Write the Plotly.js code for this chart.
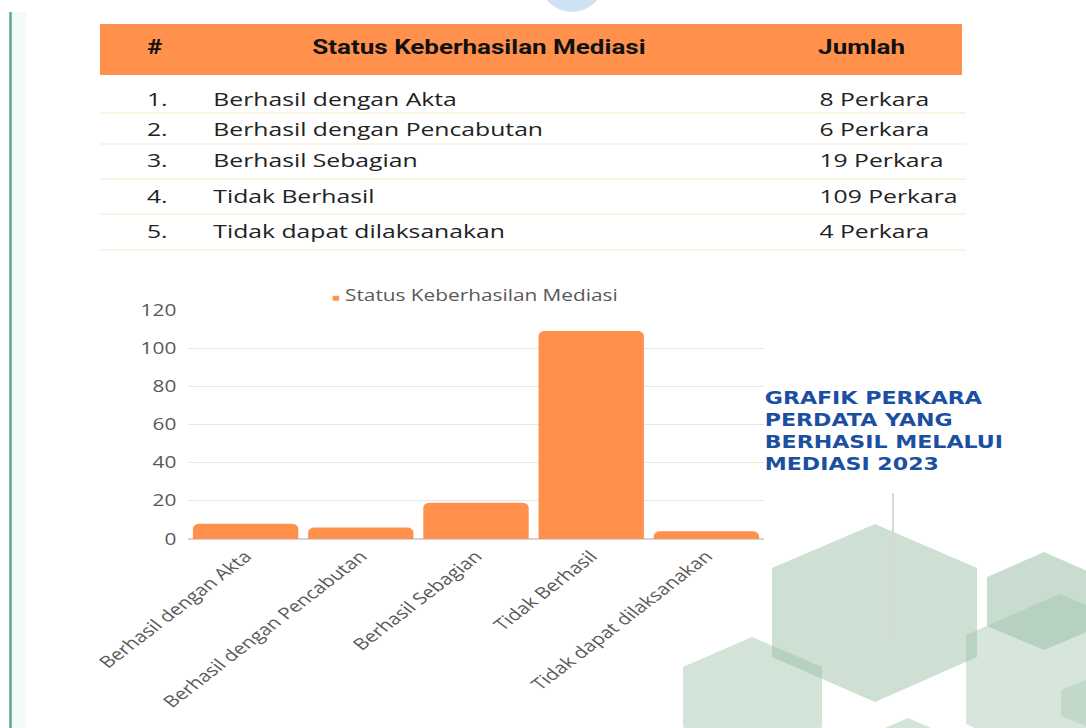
<!DOCTYPE html>
<html>
<head>
<meta charset="utf-8">
<script src="https://cdn.plot.ly/plotly-3.0.1.min.js"></script>
<style>
  html, body { margin: 0; padding: 0; background: #ffffff; overflow: hidden; }
  #chart { width: 835px; height: 728px; transform: scaleX(1.3006); transform-origin: 0 0; }
</style>
</head>
<body>
<div id="chart"></div>
<script>
// ---------- data ----------
const categories = ["Berhasil dengan Akta", "Berhasil dengan Pencabutan", "Berhasil Sebagian", "Tidak Berhasil", "Tidak dapat dilaksanakan"];
const counts = [8, 6, 19, 109, 4];
const rowNumbers = ["1.", "2.", "3.", "4.", "5."];
const amountUnit = "Perkara";
const headerLabels = ["#", "Status Keberhasilan Mediasi", "Jumlah"];
const seriesName = "Status Keberhasilan Mediasi";
const yTicks = [0, 20, 40, 60, 80, 100, 120];
const titleLines = ["GRAFIK PERKARA", "PERDATA YANG", "BERHASIL MELALUI", "MEDIASI 2023"];

// ---------- helpers (final-image pixel -> paper fraction) ----------
const FW = 1086, FH = 728;
const X = px => px / FW;
const Y = py => 1 - py / FH;
const ORANGE = "#FF914D";
const GRAY = "#595959";

function hexPath(pts) {
  return "M" + pts.map(p => X(p[0]).toFixed(5) + "," + Y(p[1]).toFixed(5)).join(" L") + " Z";
}

const shapes = [];
const annotations = [];

// left green rule
shapes.push({type: "rect", xref: "paper", yref: "paper", x0: X(12), x1: X(26), y0: Y(728), y1: Y(12),
  fillcolor: "rgba(215,244,236,0.35)", line: {width: 0}, layer: "below"});
shapes.push({type: "line", xref: "paper", yref: "paper", x0: X(10.5), x1: X(10.5), y0: Y(12), y1: Y(728),
  line: {color: "#5fae8e", width: 2}, layer: "below"});

// top faint blue circle
shapes.push({type: "circle", xref: "paper", yref: "paper", x0: X(540), x1: X(604), y0: Y(-52), y1: Y(12),
  fillcolor: "#cfe2f4", line: {width: 0}, layer: "below"});

// table header band
shapes.push({type: "rect", xref: "paper", yref: "paper", x0: X(100), x1: X(962), y0: Y(75), y1: Y(24),
  fillcolor: ORANGE, line: {width: 0}, layer: "below"});
// row separators
[113, 144, 179, 214, 250].forEach(py => {
  shapes.push({type: "line", xref: "paper", yref: "paper", x0: X(100), x1: X(966), y0: Y(py), y1: Y(py),
    line: {color: "#fbf0d8", width: 1.5}, layer: "below"});
});

// header texts
const headerX = [155, 478, 862];
headerLabels.forEach((t, i) => {
  annotations.push({xref: "paper", yref: "paper", x: X(headerX[i]), y: Y(47), xanchor: "center", yanchor: "middle",
    text: "<b>" + t + "</b>", showarrow: false, font: {family: "Roboto", size: 20, color: "#111111"}});
});
// table rows
const rowY = [99, 129, 160, 196, 231];
categories.forEach((c, i) => {
  const f = {family: "Open Sans", size: 19, color: "#222222"};
  annotations.push({xref: "paper", yref: "paper", x: X(144), y: Y(rowY[i]), xanchor: "left", yanchor: "middle",
    text: rowNumbers[i], showarrow: false, font: f});
  annotations.push({xref: "paper", yref: "paper", x: X(211), y: Y(rowY[i]), xanchor: "left", yanchor: "middle",
    text: c, showarrow: false, font: f});
  annotations.push({xref: "paper", yref: "paper", x: X(817), y: Y(rowY[i]), xanchor: "left", yanchor: "middle",
    text: counts[i] + " " + amountUnit, showarrow: false, font: f});
});

// chart legend
annotations.push({xref: "paper", yref: "paper", x: X(475), y: Y(295), xanchor: "center", yanchor: "middle",
  text: '<span style="font-size:10px;color:' + ORANGE + '">■</span> ' + seriesName, showarrow: false,
  font: {family: "Open Sans", size: 16, color: GRAY}});

// decorative hexagons
const hexes = [
  {pts: [[875,524],[977,568],[977,657],[875,702],[772,657],[772,568]], a: 0.5},
  {pts: [[1044,552],[1101,577],[1101,626],[1044,650],[987,626],[987,577]], a: 0.55},
  {pts: [[1060,594],[1154,635],[1154,724],[1060,768],[966,724],[966,635]], a: 0.4},
  {pts: [[1095,676],[1129,690],[1129,716],[1095,730],[1061,716],[1061,690]], a: 0.35},
  {pts: [[752,637],[822,667],[822,727],[752,757],[683,727],[683,667]], a: 0.45},
  {pts: [[908,718],[978,748],[978,808],[908,838],[839,808],[839,748]], a: 0.45}
];
hexes.forEach(h => {
  shapes.push({type: "path", xref: "paper", yref: "paper", path: hexPath(h.pts),
    fillcolor: "rgba(155,193,167," + h.a + ")", line: {width: 0}, layer: "below"});
});
// thin gray vertical line
shapes.push({type: "line", xref: "paper", yref: "paper", x0: X(893), x1: X(893), y0: Y(493), y1: Y(638),
  line: {color: "#d5d8d6", width: 1.5}, layer: "below"});

// right-side title (one text block)
annotations.push({xref: "paper", yref: "paper", x: X(762), y: Y(431), xanchor: "left", yanchor: "middle",
  align: "left", text: titleLines.map(t => "<b>" + t + "</b>").join("<br>"), showarrow: false,
  font: {family: "DejaVu Sans", size: 17, color: "#1b4fa2"}});

const trace = {
  type: "bar",
  name: seriesName,
  x: categories,
  y: counts,
  marker: {color: ORANGE, cornerradius: 5},
  hoverinfo: "x+y"
};

const layout = {
  width: 835, height: 728,
  margin: {l: 0, r: 0, t: 0, b: 0},
  paper_bgcolor: "#ffffff",
  plot_bgcolor: "rgba(0,0,0,0)",
  showlegend: false,
  bargap: 0.085,
  xaxis: {
    domain: [X(188), X(764)],
    anchor: "y",
    tickangle: -45,
    tickfont: {family: "Open Sans", size: 16, color: GRAY},
    showgrid: false, showline: false, ticks: "",
    ticklabelstandoff: 4,
    fixedrange: true
  },
  yaxis: {
    domain: [Y(539), Y(310)],
    anchor: "x",
    range: [0, 120],
    tickvals: yTicks,
    ticktext: yTicks.map(String),
    gridcolor: "#e6e6e6", gridwidth: 1,
    zeroline: true, zerolinecolor: "#d4d4d4", zerolinewidth: 1.5,
    showline: false, ticks: "",
    tickfont: {family: "Open Sans", size: 16, color: GRAY},
    ticklabelstandoff: 8,
    fixedrange: true
  },
  shapes: shapes,
  annotations: annotations
};

Plotly.newPlot("chart", [trace], layout, {displayModeBar: false, staticPlot: true});
</script>
</body>
</html>
